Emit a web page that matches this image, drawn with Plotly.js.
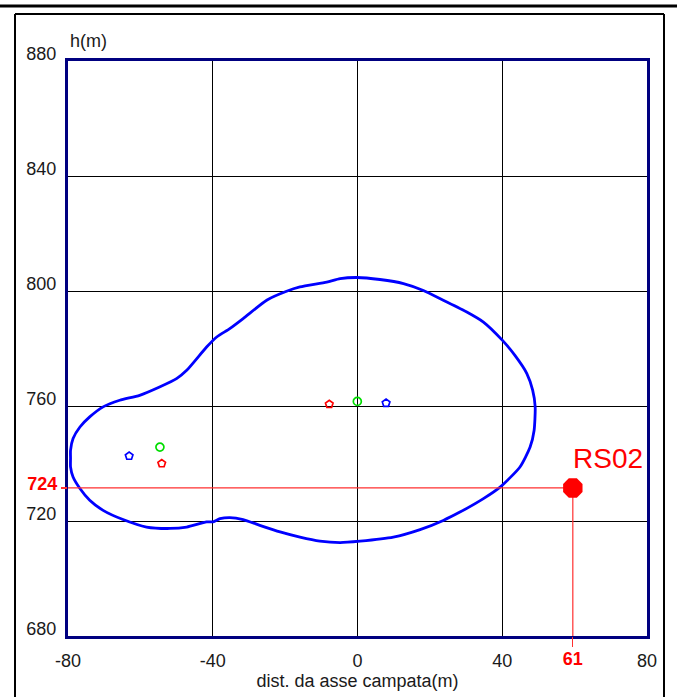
<!DOCTYPE html>
<html>
<head>
<meta charset="utf-8">
<script src="https://cdn.plot.ly/plotly-3.0.1.min.js"></script>
<style>html,body{margin:0;padding:0;background:#fff;}#chart{width:677px;height:697px;}</style>
</head>
<body>
<div id="chart"></div>
<script>
// Closed outline (clockwise from the leftmost point)
const curveX = [-79.3,-79.3,-78.6,-76.7,-74.0,-70.3,-65.7,-60.2,-54.7,-50.0,-47.2,-41.7,-38.9,-35.3,-31.6,-25.1,-19.6,-15.9,-8.5,-4.8,-0.2,6.2,12.7,18.2,23.7,30.2,34.8,40.0,43.5,46.8,48.4,49.1,48.8,47.7,44.9,39.4,34.8,28.3,23.7,17.3,9.9,0.7,-4.8,-10.4,-15.9,-21.4,-27.0,-31.6,-35.3,-38.0,-39.9,-41.7,-47.2,-51.8,-58.3,-64.8,-70.3,-74.0,-76.7,-78.6,-79.3,-79.3];
const curveH = [741.8,744.6,748.7,752.7,756.2,759.7,762.0,763.7,766.6,769.5,772.4,780.5,784.0,786.9,790.4,796.8,799.9,801.4,803.1,804.3,804.7,804.0,802.6,800.2,796.8,792.7,789.2,782.9,777.6,771.3,765.5,759.7,751.5,745.7,738.8,731.8,727.8,723.1,720.2,717.0,714.4,713.0,712.5,713.0,714.4,716.2,718.5,720.5,721.2,720.8,719.7,719.7,717.9,717.4,717.9,720.5,723.7,727.2,731.3,735.3,738.8,741.8];

// small conductor markers
const greenX = [-54.6, -0.05], greenH = [745.7, 761.6];
const redX   = [-54.1, -7.8],  redH   = [740.0, 760.6];
const blueX  = [-63.1, 7.9],   blueH  = [742.6, 761.0];

// RS02 point: position as drawn, labels as written
const rsName = "RS02";
const rsX = 59.5, rsH = 731.5;
const rsXLabel = "61", rsHLabel = "724";

const xTicks = [-80, -40, 0, 40, 80];
const yTicks = [680, 720, 760, 800, 840, 880];

// geometry helpers (px -> paper)
const W = 677, H = 697, mL = 68, mR = 30, mT = 61, mB = 61;
const pw = W - mL - mR, ph = H - mT - mB;
const px = v => (v - mL) / pw;
const py = v => (H - mB - v) / ph;

const tickFont = {family: "Liberation Sans, Arial, sans-serif", size: 18, color: "#1a1a1a"};

const traces = [
  {x: curveX, y: curveH, mode: "lines", line: {color: "#0000FF", width: 2.8, shape: "spline", smoothing: 0.6}, hoverinfo: "skip"},
  {x: greenX, y: greenH, mode: "markers", marker: {symbol: "circle-open", size: 8, color: "#00DD00", line: {width: 1.7}}},
  {x: redX, y: redH, mode: "markers", marker: {symbol: "pentagon-open", size: 8, color: "#FF0000", line: {width: 1.7}}},
  {x: blueX, y: blueH, mode: "markers", marker: {symbol: "pentagon-open", size: 8, color: "#0000FF", line: {width: 1.7}}},
  {x: [-80, rsX, rsX], y: [rsH, rsH, 680], xaxis: "x2", yaxis: "y2", mode: "lines", line: {color: "#FF3030", width: 1.2}},
  {x: [rsX], y: [rsH], xaxis: "x2", yaxis: "y2", mode: "markers", marker: {symbol: "octagon", size: 21, color: "#FF0000"}}
];

const layout = {
  width: W, height: H,
  margin: {l: mL, r: mR, t: mT, b: mB},
  paper_bgcolor: "#fff", plot_bgcolor: "#fff",
  showlegend: false,
  xaxis: {
    range: [-80, 80], tickvals: xTicks, ticktext: xTicks.map(String),
    showgrid: true, gridcolor: "#000", gridwidth: 1, zeroline: false,
    showline: true, linecolor: "#000080", linewidth: 3, mirror: true,
    ticks: "", tickfont: tickFont, ticklabelstandoff: 6,
    title: {text: "dist. da asse campata(m)", font: tickFont, standoff: 4}
  },
  yaxis: {
    range: [680, 880], tickvals: yTicks, ticktext: yTicks.map(String),
    showgrid: true, gridcolor: "#000", gridwidth: 1, zeroline: false,
    showline: true, linecolor: "#000080", linewidth: 3, mirror: true,
    ticks: "", tickfont: tickFont, ticklabelshift: -7, ticklabelstandoff: 5
  },
  xaxis2: {
    overlaying: "x", range: [-80, 80], tickvals: [rsX], ticktext: ["<b>" + rsXLabel + "</b>"],
    showgrid: false, zeroline: false, showline: false,
    ticks: "outside", ticklen: 10, tickcolor: "#FF3030", tickwidth: 1.2,
    tickfont: {family: tickFont.family, size: 18, color: "#FF0000"}, ticklabelstandoff: -4
  },
  yaxis2: {
    overlaying: "y", range: [680, 880], tickvals: [rsH], ticktext: ["<b>" + rsHLabel + "</b>"],
    showgrid: false, zeroline: false, showline: false,
    ticks: "outside", ticklen: 6, tickcolor: "#FF3030", tickwidth: 1.2,
    tickfont: {family: tickFont.family, size: 18, color: "#FF0000"}, ticklabelshift: -4, ticklabelstandoff: 0
  },
  annotations: [
    {xref: "paper", yref: "paper", x: 0, y: 1, xanchor: "left", yanchor: "bottom", yshift: 8,
     text: "h(m)", showarrow: false, font: tickFont},
    {xref: "x2", yref: "y2", x: rsX, y: rsH, xanchor: "left", yanchor: "bottom", xshift: -2, yshift: 12,
     text: rsName, showarrow: false, font: {family: tickFont.family, size: 28, color: "#FF0000"}}
  ],
  shapes: [
    {type: "line", xref: "paper", yref: "paper", x0: px(0), x1: px(677), y0: py(6), y1: py(6), line: {color: "#000", width: 3}},
    {type: "line", xref: "paper", yref: "paper", x0: px(15), x1: px(664), y0: py(14), y1: py(14), line: {color: "#000", width: 2}},
    {type: "line", xref: "paper", yref: "paper", x0: px(15), x1: px(15), y0: py(14), y1: py(697), line: {color: "#000", width: 2}},
    {type: "line", xref: "paper", yref: "paper", x0: px(664), x1: px(664), y0: py(14), y1: py(697), line: {color: "#000", width: 2}}
  ]
};

Plotly.newPlot("chart", traces, layout, {staticPlot: true, displayModeBar: false});
</script>
</body>
</html>
